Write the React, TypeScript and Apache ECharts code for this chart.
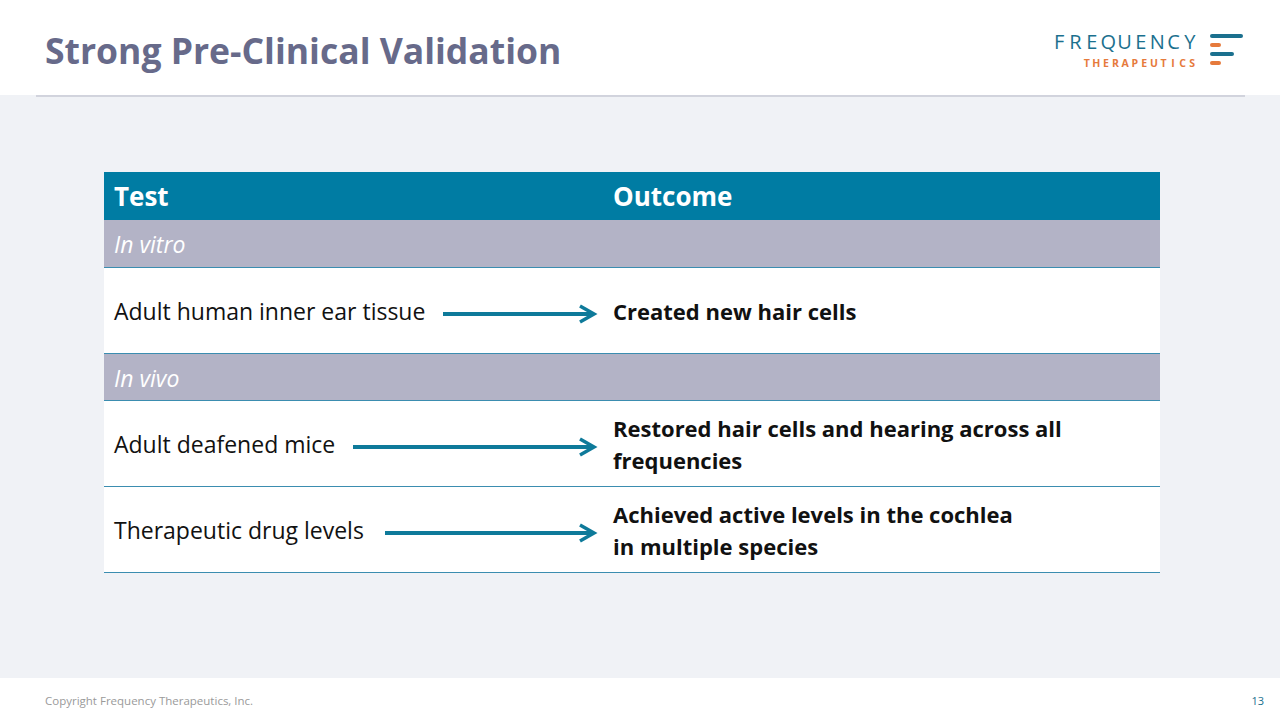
import React, { useEffect, useRef } from "react";
import * as echarts from "echarts";

const title = "Strong Pre-Clinical Validation";
const headers = ["Test", "Outcome"];
const sectionLabels = ["In vitro", "In vivo"];
const tests = ["Adult human inner ear tissue", "Adult deafened mice", "Therapeutic drug levels"];
const outcomes = [
  ["Created new hair cells"],
  ["Restored hair cells and hearing across all", "frequencies"],
  ["Achieved active levels in the cochlea", "in multiple species"],
];
const arrowStarts = [443, 353, 385];
const footer = "Copyright Frequency Therapeutics, Inc.";
const pageNo = "13";
const logoTop = "FREQUENCY";
const logoBottom = "THERAPEUTICS";

const TEAL = "#007ca3";
const FONT = "'Open Sans', sans-serif";

export default function App() {
  const ref = useRef<HTMLDivElement>(null);
  useEffect(() => {
    document.body.style.margin = "0";
    const chart = echarts.init(ref.current!, null, { renderer: "svg" });
    const g: any[] = [];
    g.push({ type: "rect", shape: { x: 0, y: 0, width: 1280, height: 720 }, style: { fill: "#ffffff" } });
    g.push({ type: "rect", shape: { x: 0, y: 95, width: 1280, height: 583 }, style: { fill: "#f0f2f6" } });
    g.push({ type: "line", shape: { x1: 36, y1: 96, x2: 1245, y2: 96 }, style: { stroke: "#b3b5c4", lineWidth: 1 } });
    g.push({ type: "text", x: 45, y: 50, style: { text: title, fill: "#676a8a", font: `bold 35.5px ${FONT}`, textVerticalAlign: "middle" } });

    const spaced = (txt: string, x0: number, x1: number, y: number, font: string, fill: string) => {
      const pitch = (x1 - x0) / txt.length;
      txt.split("").forEach((ch, i) =>
        g.push({ type: "text", x: x0 + (i + 0.5) * pitch, y, style: { text: ch, fill, font, textAlign: "center", textVerticalAlign: "middle" } })
      );
    };
    spaced(logoTop, 1051, 1198, 41, `20px ${FONT}`, "#1b708e");
    spaced(logoBottom, 1082, 1197, 62.5, `bold 10.5px ${FONT}`, "#e67a3c");
    const bars = [
      { y: 36, w: 33, c: "#1b708e" },
      { y: 45, w: 11, c: "#e67a3c" },
      { y: 54, w: 24, c: "#1b708e" },
      { y: 63, w: 11, c: "#e67a3c" },
    ];
    bars.forEach((b) => g.push({ type: "rect", shape: { x: 1210, y: b.y - 2, width: b.w, height: 4, r: 2 }, style: { fill: b.c } }));

    const X0 = 104, X1 = 1160, COL2 = 613;
    g.push({ type: "rect", shape: { x: X0, y: 172, width: X1 - X0, height: 48 }, style: { fill: TEAL } });
    g.push({ type: "text", x: 114, y: 196, style: { text: headers[0], fill: "#ffffff", font: `bold 26px ${FONT}`, textVerticalAlign: "middle" } });
    g.push({ type: "text", x: COL2, y: 196, style: { text: headers[1], fill: "#ffffff", font: `bold 26px ${FONT}`, textVerticalAlign: "middle" } });

    const sections = [
      { y: 220, label: sectionLabels[0] },
      { y: 354, label: sectionLabels[1] },
    ];
    sections.forEach((s) => {
      g.push({ type: "rect", shape: { x: X0, y: s.y, width: X1 - X0, height: 47 }, style: { fill: "#b3b3c6" } });
      g.push({ type: "text", x: 114, y: s.y + 24, style: { text: s.label, fill: "#ffffff", font: `italic 23px ${FONT}`, textVerticalAlign: "middle" } });
    });
    const rowTops = [268, 401, 487];
    rowTops.forEach((top, i) => {
      g.push({ type: "rect", shape: { x: X0, y: top, width: X1 - X0, height: 85 }, style: { fill: "#ffffff" } });
      const cy = top + 43;
      g.push({ type: "text", x: 114, y: cy, style: { text: tests[i], fill: "#111111", font: `23px ${FONT}`, textVerticalAlign: "middle" } });
      const lines = outcomes[i];
      lines.forEach((t, j) => {
        const ly = cy + (j - (lines.length - 1) / 2) * 32;
        g.push({ type: "text", x: COL2, y: ly, style: { text: t, fill: "#111111", font: `bold 22px ${FONT}`, textVerticalAlign: "middle" } });
      });
      const ay = cy + 3;
      g.push({ type: "line", shape: { x1: arrowStarts[i], y1: ay, x2: 593, y2: ay }, style: { stroke: "#0e7a9a", lineWidth: 4 } });
      g.push({ type: "polyline", shape: { points: [[580, ay - 8], [594, ay], [580, ay + 8]] }, style: { stroke: "#0e7a9a", lineWidth: 3.5, fill: "none" } });
    });
    [267, 353, 400, 486, 572].forEach((y) =>
      g.push({ type: "line", shape: { x1: X0, y1: y + 0.5, x2: X1, y2: y + 0.5 }, style: { stroke: "#3b8db0", lineWidth: 1.2 } })
    );

    g.push({ type: "text", x: 45, y: 700, style: { text: footer, fill: "#9a9a9a", font: `11.5px ${FONT}`, textVerticalAlign: "middle" } });
    g.push({ type: "text", x: 1264, y: 700, style: { text: pageNo, fill: "#1b708e", font: `11px ${FONT}`, textAlign: "right", textVerticalAlign: "middle" } });

    chart.setOption({ animation: false, graphic: { elements: g } });
    return () => chart.dispose();
  }, []);
  return <div ref={ref} style={{ width: 1280, height: 720 }} />;
}
